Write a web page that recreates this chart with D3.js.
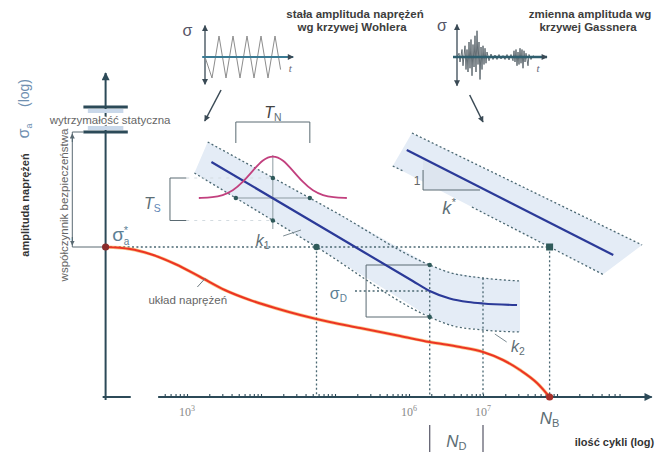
<!DOCTYPE html>
<meta charset="utf-8">
<style>
body { margin: 0; background: #fff; }
svg { font-family: "Liberation Sans", Arial, sans-serif; }
.dotted { fill: none; stroke: #4b6873; stroke-width: 1.3; stroke-dasharray: 2,2.4; }
.thin { fill: none; stroke: #5a6a72; stroke-width: 1; }
.halo { stroke: #fff; stroke-width: 3px; paint-order: stroke; }
</style>
<body>
<script src="https://cdn.jsdelivr.net/npm/d3@7"></script>
<script>

// x = log10(N) (cycles), y = log amplitude in schematic units (x-axis at 0)
var sigmaStar = 1.5,
    staticHi = 2.9,
    staticLo = 2.65,
    nB = 7.9,
    nD = [6.28, 7.0];

// red curve "układ naprężeń"
var stressLg  = [1.9, 2.23, 2.5, 2.84, 3.18, 3.51, 3.85, 4.19, 4.53, 4.93, 5.34, 5.88, 6.28, 6.69, 7.0, 7.27, 7.5, 7.73, 7.9];
var stressSig = [1.5, 1.48, 1.43, 1.33, 1.2, 1.07, 0.97, 0.89, 0.82, 0.75, 0.69, 0.61, 0.55, 0.5, 0.45, 0.37, 0.27, 0.14, 0];

// Wohler curve with scatter band
var wohlerLg  = [3.33, 5.0, 6.05, 6.28, 6.55, 6.8, 7.0, 7.46];
var wohlerSig = [2.35, 1.62, 1.16, 1.06, 0.985, 0.95, 0.935, 0.92];
var upperLg   = [3.28, 5.0, 6.28, 6.55, 7.0, 7.5];
var upperSig  = [2.55, 1.85, 1.32, 1.245, 1.19, 1.16];
var lowerLg   = [3.1, 4.75, 6.28, 6.55, 7.0, 7.5];
var lowerSig  = [2.24, 1.5, 0.8, 0.72, 0.67, 0.65];

// Gassner line with scatter band
var gassLg      = [5.97, 8.76];
var gassSig     = [2.47, 1.42];
var gassUpLg    = [6.04, 9.15];
var gassUpSig   = [2.64, 1.52];
var gassLowALg  = [5.78, 5.92];
var gassLowASig = [2.31, 2.26];
var gassLowBLg  = [6.85, 8.62];
var gassLowBSig = [1.9, 1.226];

// scatter distribution (offsets from its centre)
var gaussCenter = [4.16, 1.99];
var gaussDx = [-1.0, -0.81, -0.68, -0.54, -0.41, -0.27, -0.14, 0, 0.14, 0.27, 0.41, 0.54, 0.68, 0.81, 1.0];
var gaussH  = [0, 0.007, 0.025, 0.07, 0.155, 0.273, 0.384, 0.43, 0.384, 0.273, 0.155, 0.07, 0.025, 0.007, 0];

// fatigue limit box
var sigmaD = 1.06;
var boxLg = [5.42, 6.28], boxSig = [0.8, 1.32];

// inset signals
var waveT   = [0, 1, 2, 3, 4, 5, 6, 7, 8, 9, 10, 10.8];
var waveAmp = [0, -1, 1, -1, 1, -1, 1, -1, 1, -1, 1, -0.6];
var gassT   = [0, 2, 3, 5, 6, 8, 9, 10, 11, 12, 13, 14, 15, 16, 17, 18, 19, 20, 21, 22, 23, 24, 25, 26, 27, 28, 29, 30, 32, 34, 36, 38, 40, 42, 44, 46, 48, 50, 52, 54, 56, 57, 58, 59, 60, 61, 62, 63, 64, 65, 66, 67, 68, 69, 71, 72, 74, 76, 78];
var gassAmp = [0, 0.15, -0.2, 0.3, -0.35, 0.45, -0.5, 0.3, -0.6, 0.6, -0.45, 0.7, -0.75, 0.5, -0.4, 0.85, -0.6, 1.05, -0.3, 0.6, -0.9, 0.4, -0.5, 0.45, -0.3, 0.35, -0.25, 0.2, -0.15, 0.12, -0.1, 0.08, -0.1, 0.1, -0.08, 0.06, -0.1, 0.1, -0.12, 0.1, -0.15, 0.25, -0.2, 0.3, -0.35, 0.2, -0.3, 0.35, -0.25, 0.3, -0.45, 0.25, -0.2, 0.15, -0.35, 0.1, -0.1, 0.05, 0];

var tickExp = [3, 6, 7];

var width = 665, height = 452;

var svg = d3.select("body").append("svg")
    .attr("width", width)
    .attr("height", height);

var x = d3.scaleLinear().domain([3, 7]).range([187, 483]);
var y = d3.scaleLinear().domain([0, 3]).range([397, 97]);

var defs = svg.append("defs");
function marker(id, color, w, h) {
  defs.append("marker").attr("id", id)
      .attr("viewBox", "0 0 10 10").attr("refX", 9).attr("refY", 5)
      .attr("markerWidth", w).attr("markerHeight", h)
      .attr("markerUnits", "userSpaceOnUse")
      .attr("orient", "auto-start-reverse")
    .append("path").attr("d", "M0,0 L10,5 L0,10 z").attr("fill", color);
}
marker("axArrow", "#2c4a58", 9, 8);
marker("smArrow", "#3a4a55", 7, 6);
marker("dimArrow", "#5a6a72", 5, 5);

function pts(xs, ys) { return xs.map(function(d, i) { return [x(d), y(ys[i])]; }); }
var lineM = d3.line().curve(d3.curveMonotoneX);
var lineL = d3.line();

// scatter band fills
svg.append("path")
    .attr("d", lineL(pts(upperLg, upperSig).concat(pts(lowerLg, lowerSig).reverse())) + "Z")
    .attr("fill", "#e4ecf6");
svg.append("path")
    .attr("d", lineL(pts([gassLowALg[0]].concat(gassUpLg), [gassLowASig[0]].concat(gassUpSig))
        .concat(pts(gassLowBLg, gassLowBSig).reverse())) + "Z")
    .attr("fill", "#e4ecf6");

// k* triangle
svg.append("path")
    .attr("d", lineL([[x(6.19), y(2.39)], [x(6.19), y(2.07)], [x(6.96), y(2.07)]]) + "Z")
    .attr("fill", "#dde5ef");
svg.append("path").attr("class", "thin").attr("stroke", "#8a979e")
    .attr("d", lineL([[x(6.19), y(2.27)], [x(6.19), y(2.07)], [x(6.96), y(2.07)]]));

// axes
var ax = svg.append("g").attr("stroke", "#2c4a58").attr("stroke-width", 2);
ax.append("line").attr("x1", x(1.9)).attr("x2", x(1.9)).attr("y1", y(-0.03)).attr("y2", y(3.24))
    .attr("marker-end", "url(#axArrow)");
ax.append("line").attr("x1", x(1.86)).attr("x2", x(2.24)).attr("y1", y(0)).attr("y2", y(0));
ax.append("line").attr("x1", x(2.61)).attr("x2", x(9.28)).attr("y1", y(0)).attr("y2", y(0))
    .attr("marker-end", "url(#axArrow)");

var logX = d3.scaleLog().domain([Math.pow(10, 2.61), Math.pow(10, 8.9)]).range([x(2.61), x(8.9)]);
var tickVals = logX.ticks().filter(function(d) { return d > Math.pow(10, 2.62); });
svg.append("g").attr("transform", "translate(0," + y(0) + ")")
    .call(d3.axisTop(logX).tickValues(tickVals).tickFormat("").tickSize(3))
    .call(function(g) { g.select(".domain").remove(); g.selectAll("line").attr("stroke", "#2c4a58").attr("stroke-width", 1.1); });

var tl = svg.append("g").attr("fill", "#8a8a8a").attr("font-family", "'Liberation Serif', serif").attr("font-size", 12);
tickExp.forEach(function(e) {
  var t = tl.append("text").attr("x", x(e)).attr("y", y(-0.19)).attr("text-anchor", "middle");
  t.append("tspan").text("10");
  t.append("tspan").attr("dy", -5).attr("font-size", 8).text(e);
});

// static strength bars on the y axis
[staticHi, staticLo].forEach(function(s, i) {
  svg.append("rect").attr("x", x(1.66)).attr("width", x(2.14) - x(1.66))
      .attr("y", i === 0 ? y(s) + 2 : y(s) - 6).attr("height", 4).attr("fill", "#c9d8ea");
  svg.append("line").attr("x1", x(1.6)).attr("x2", x(2.2)).attr("y1", y(s)).attr("y2", y(s))
      .attr("stroke", "#2c4a58").attr("stroke-width", 3);
});

// safety factor bracket
svg.append("path").attr("class", "thin").attr("stroke", "#4e6570").attr("stroke-width", 1.2)
    .attr("d", lineL([[x(1.6), y(staticLo)], [x(1.45), y(staticLo)], [x(1.45), y(sigmaStar)], [x(1.9), y(sigmaStar)]]));
svg.append("line").attr("x1", x(1.45)).attr("x2", x(1.45)).attr("y1", y(staticLo - 0.1)).attr("y2", y(staticLo - 0.02))
    .attr("stroke", "#4e6570").attr("marker-end", "url(#dimArrow)");
svg.append("line").attr("x1", x(1.45)).attr("x2", x(1.45)).attr("y1", y(sigmaStar + 0.1)).attr("y2", y(sigmaStar + 0.02))
    .attr("stroke", "#4e6570").attr("marker-end", "url(#dimArrow)");

// dotted guides
svg.append("line").attr("class", "dotted")
    .attr("x1", x(1.9)).attr("x2", x(nB)).attr("y1", y(sigmaStar)).attr("y2", y(sigmaStar));
var vDots = [[4.75, sigmaStar], [nD[0], boxSig[1]], [nD[1], 1.19], [nB, sigmaStar]];
svg.selectAll("line.vdot").data(vDots).enter().append("line").attr("class", "dotted vdot")
    .attr("x1", function(d) { return x(d[0]); }).attr("x2", function(d) { return x(d[0]); })
    .attr("y1", function(d) { return y(d[1]); }).attr("y2", y(0));

// scatter lines
svg.append("path").attr("class", "dotted").attr("d", lineM(pts(upperLg, upperSig)));
svg.append("path").attr("class", "dotted").attr("d", lineM(pts(lowerLg, lowerSig)));
svg.append("path").attr("class", "dotted").attr("d", lineL(pts(gassUpLg, gassUpSig)));
svg.append("path").attr("class", "dotted").attr("d", lineL(pts(gassLowALg, gassLowASig)));
svg.append("path").attr("class", "dotted").attr("d", lineL(pts(gassLowBLg, gassLowBSig)));

// sigma_D box
svg.append("path").attr("class", "thin").attr("stroke", "#4e6570").attr("stroke-width", 1.1)
    .attr("d", lineL([[x(boxLg[1]), y(boxSig[1])], [x(boxLg[0]), y(boxSig[1])], [x(boxLg[0]), y(boxSig[0])], [x(boxLg[1]), y(boxSig[0])]]));
svg.append("line").attr("class", "dotted").attr("stroke-dasharray", "3,3")
    .attr("x1", x(5.27)).attr("x2", x(nD[0])).attr("y1", y(sigmaD)).attr("y2", y(sigmaD));

// gaussian helpers
var gc = gaussCenter;
svg.append("line").attr("stroke", "#8d9ba2").attr("stroke-width", 1)
    .attr("x1", x(gc[0])).attr("x2", x(gc[0])).attr("y1", y(gc[1] + 0.43)).attr("y2", y(1.68));
svg.append("line").attr("stroke", "#8d9ba2").attr("stroke-width", 1)
    .attr("x1", x(3.66)).attr("x2", x(4.66)).attr("y1", y(gc[1])).attr("y2", y(gc[1]));
[2.19, 1.765].forEach(function(v) {
  svg.append("line").attr("stroke", "#d3dbe0").attr("stroke-dasharray", "3,5")
      .attr("x1", x(2.99)).attr("x2", x(gc[0])).attr("y1", y(v)).attr("y2", y(v));
});

// T_S bracket
svg.append("path").attr("class", "thin")
    .attr("d", lineL([[x(2.99), y(2.19)], [x(2.77), y(2.19)], [x(2.77), y(1.765)], [x(2.99), y(1.765)]]));
// T_N bracket
svg.append("path").attr("class", "thin")
    .attr("d", lineL([[x(3.66), y(2.54)], [x(3.66), y(2.75)], [x(4.66), y(2.75)], [x(4.66), y(2.54)]]));

// blue curves
svg.append("path").attr("fill", "none").attr("stroke", "#2b3a98").attr("stroke-width", 2.2)
    .attr("d", lineM(pts(wohlerLg, wohlerSig)));
svg.append("path").attr("fill", "none").attr("stroke", "#2b3a98").attr("stroke-width", 2.2)
    .attr("d", lineL(pts(gassLg, gassSig)));

// gaussian
svg.append("path").attr("fill", "none").attr("stroke", "#c2407e").attr("stroke-width", 1.8)
    .attr("d", d3.line().curve(d3.curveBasis)(gaussDx.map(function(d, i) { return [x(gc[0] + d), y(gc[1] + gaussH[i])]; })));

// red stress curve
svg.append("path").attr("fill", "none").attr("stroke", "#f6a23a").attr("stroke-width", 3.4).attr("opacity", 0.6)
    .attr("d", lineM(pts(stressLg, stressSig)));
svg.append("path").attr("fill", "none").attr("stroke", "#ec3424").attr("stroke-width", 2)
    .attr("d", lineM(pts(stressLg, stressSig)));

// points
var dotC = "#2f5a5a";
[[3.66, gc[1]], [4.66, gc[1]], [gc[0], 2.19], [gc[0], 1.765], [nD[0], boxSig[1]], [nD[0], boxSig[0]]].forEach(function(p) {
  svg.append("circle").attr("cx", x(p[0])).attr("cy", y(p[1])).attr("r", 2.2).attr("fill", dotC);
});
svg.append("circle").attr("cx", x(4.75)).attr("cy", y(sigmaStar)).attr("r", 3.2).attr("fill", dotC);
svg.append("rect").attr("x", x(nB) - 3.5).attr("y", y(sigmaStar) - 3.5).attr("width", 7).attr("height", 7).attr("fill", dotC);
svg.append("circle").attr("cx", x(1.9)).attr("cy", y(sigmaStar)).attr("r", 3.6).attr("fill", "#8a2c2c");
svg.append("circle").attr("cx", x(nB)).attr("cy", y(0)).attr("r", 3.6).attr("fill", "#a8302a");

// pointer lines
function seg(a, b, c) {
  svg.append("line").attr("stroke", c || "#7d8c93").attr("stroke-width", 1)
      .attr("x1", x(a[0])).attr("y1", y(a[1])).attr("x2", x(b[0])).attr("y2", y(b[1]));
}
seg([4.3, 1.61], [4.54, 1.67]);
seg([7.16, 0.63], [7.32, 0.55]);
seg([3.14, 1.1], [3.25, 1.19], "#6d7a80");

// insets
var lx = d3.scaleLinear().domain([0, 12]).range([205, 289]);
var ly = d3.scaleLinear().domain([-1, 1]).range([78, 36]);
svg.append("line").attr("stroke", "#3a4a55").attr("stroke-width", 1.3)
    .attr("x1", lx(0)).attr("x2", lx(0)).attr("y1", ly(-1.3)).attr("y2", ly(1.5))
    .attr("marker-start", "url(#smArrow)").attr("marker-end", "url(#smArrow)");
svg.append("path").attr("fill", "none").attr("stroke", "#8c8c8c").attr("stroke-width", 1)
    .attr("d", lineL(waveT.map(function(d, i) { return [lx(d), ly(waveAmp[i])]; })));
svg.append("line").attr("stroke", "#3b7b94").attr("stroke-width", 2)
    .attr("x1", lx(-0.4)).attr("x2", lx(12.6)).attr("y1", ly(0)).attr("y2", ly(0))
    .attr("marker-end", "url(#smArrow)");

var rx = d3.scaleLinear().domain([0, 90]).range([457, 547]);
var ry = d3.scaleLinear().domain([-1, 1]).range([82, 32]);
svg.append("line").attr("stroke", "#3a4a55").attr("stroke-width", 1.3)
    .attr("x1", rx(0)).attr("x2", rx(0)).attr("y1", ry(-1.15)).attr("y2", ry(1.3))
    .attr("marker-start", "url(#smArrow)").attr("marker-end", "url(#smArrow)");
svg.append("path").attr("fill", "none").attr("stroke", "#556066").attr("stroke-width", 0.9)
    .attr("d", lineL(gassT.map(function(d, i) { return [rx(d), ry(gassAmp[i])]; })));
svg.append("line").attr("stroke", "#2f5f6f").attr("stroke-width", 2.4)
    .attr("x1", rx(-4)).attr("x2", rx(90)).attr("y1", ry(0)).attr("y2", ry(0))
    .attr("marker-end", "url(#smArrow)");

// arrows from insets
svg.append("line").attr("stroke", "#3a4a55").attr("stroke-width", 1.5)
    .attr("x1", x(3.46)).attr("y1", y(3.07)).attr("x2", x(3.24)).attr("y2", y(2.76))
    .attr("marker-end", "url(#smArrow)");
svg.append("line").attr("stroke", "#3a4a55").attr("stroke-width", 1.5)
    .attr("x1", x(6.82)).attr("y1", y(3.02)).attr("x2", x(7.0)).attr("y2", y(2.75))
    .attr("marker-end", "url(#smArrow)");

// ---- text ----
function txt(px, py, s, size, color, anchor) {
  return svg.append("text").attr("x", px).attr("y", py).attr("font-size", size)
      .attr("fill", color).attr("text-anchor", anchor || "start").text(s);
}
txt(355, 18, "stała amplituda naprężeń", 11.5, "#3d3d3d", "middle").attr("font-weight", "bold");
txt(352, 31, "wg krzywej Wohlera", 11.5, "#3d3d3d", "middle").attr("font-weight", "bold");
txt(590, 18, "zmienna amplituda wg", 11.5, "#3d3d3d", "middle").attr("font-weight", "bold");
txt(588, 31, "krzywej Gassnera", 11.5, "#3d3d3d", "middle").attr("font-weight", "bold");

txt(lx(-2.5), ly(1.2) + 4, "σ", 16, "#556", "middle");
txt(lx(12.2), ly(-0.5) + 4, "t", 11, "#667", "middle").attr("font-style", "italic").attr("font-family", "'Liberation Serif', serif");
txt(rx(-15), ry(1.2) + 4, "σ", 16, "#556", "middle");
txt(rx(81), ry(-0.45) + 4, "t", 11, "#667", "middle").attr("font-style", "italic").attr("font-family", "'Liberation Serif', serif");

txt(x(1.96), y(2.73), "wytrzymałość statyczna", 11.5, "#666", "middle").attr("class", "halo");
txt(x(3.01), y(0.93), "układ naprężeń", 11.5, "#666", "middle");

// rotated y labels
function vtxt(px, py, size, color) {
  return svg.append("text").attr("transform", "translate(" + px + "," + py + ") rotate(-90)")
      .attr("font-size", size).attr("fill", color).attr("text-anchor", "middle");
}
vtxt(29, 205, 11, "#333").attr("font-weight", "bold").text("amplituda naprężeń");
var sa = vtxt(29, 131, 16, "#6f8fb0");
sa.append("tspan").text("σ");
sa.append("tspan").attr("font-size", 9).attr("dy", 3).text("a");
vtxt(29, 93, 14, "#6f8fb0").text("(log)");
vtxt(68, 205, 11.5, "#666").text("współczynnik bezpieczeństwa");

// sigma a star
var ssX = x(1.99), ssY = y(1.56);
var ss = txt(ssX, ssY, "σ", 19, "#5d7f95");
ss.append("tspan").attr("font-size", 11).attr("x", ssX + 11.5).attr("dy", -7).text("*");
ss.append("tspan").attr("font-size", 10).attr("x", ssX + 11.5).attr("dy", 11).text("a");

function sublbl(px, py, main, sub, size, anchor, subColor) {
  var t = txt(px, py, "", size, "#5d6e75", anchor).attr("font-style", "italic");
  t.append("tspan").text(main);
  t.append("tspan").attr("font-size", size * 0.65).attr("dy", size * 0.2).attr("font-style", "normal")
      .attr("fill", subColor || "#5d6e75").text(sub);
  return t;
}
sublbl(x(3.93), y(1.51), "k", "1", 16, "start");
sublbl(x(7.38), y(0.45), "k", "2", 16, "start");
sublbl(x(4.16), y(2.79), "T", "N", 16, "middle").attr("fill", "#444");
sublbl(x(2.42), y(1.88), "T", "S", 16, "start", "#5f86b5");
var sd = txt(x(4.93), y(0.98), "σ", 16, "#5d7f95");
sd.append("tspan").attr("font-size", 10).attr("dy", 3).text("D");
txt(x(6.11), y(2.12), "1", 12, "#666", "middle");
var ks = txt(x(6.45), y(1.83), "k", 18, "#5d6e75").attr("font-style", "italic");
ks.append("tspan").attr("font-size", 11).attr("dy", -8).text("*");
sublbl(x(nB), y(-0.27), "N", "B", 17, "middle");
sublbl(x(6.64), y(-0.5), "N", "D", 17, "middle");
nD.forEach(function(d) {
  svg.append("line").attr("stroke", "#556").attr("stroke-width", 1.2)
      .attr("x1", x(d)).attr("x2", x(d)).attr("y1", y(-0.28)).attr("y2", y(-0.55));
});
txt(x(8.24), y(-0.49), "ilość cykli (log)", 11, "#333").attr("font-weight", "bold");

</script>
